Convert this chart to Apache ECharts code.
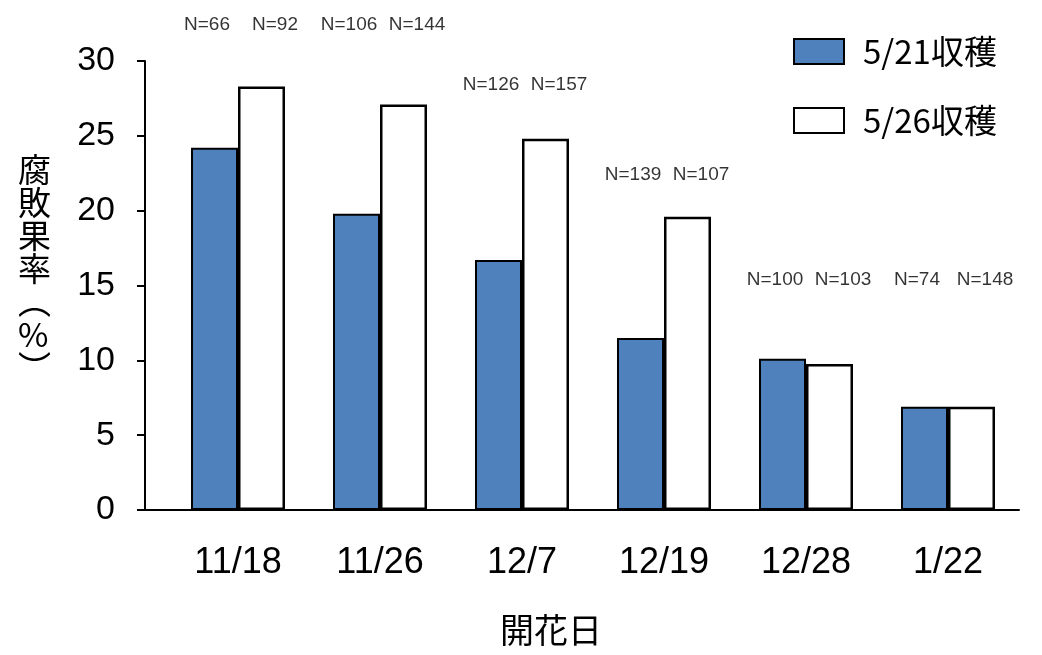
<!DOCTYPE html>
<html><head><meta charset="utf-8">
<script src="https://cdn.jsdelivr.net/npm/echarts@6/dist/echarts.min.js"></script>
<style>html,body{margin:0;padding:0;background:#fff}#c{width:1042px;height:655px}</style>
</head><body><div id="c"></div>
<script>
const categories = ['11/18', '11/26', '12/7', '12/19', '12/28', '1/22'];
const seriesNames = ['5/21収穫', '5/26収穫'];
const harvest521 = [24.2, 19.8, 16.7, 11.5, 10.1, 6.9];
const harvest526 = [28.3, 27.1, 24.8, 19.6, 9.75, 6.9];
const n521 = [66, 106, 126, 139, 100, 74];
const n526 = [92, 144, 157, 107, 103, 148];
const nLabelLevel = [32.4, 32.4, 28.4, 22.4, 15.4, 15.4];
const yTicks = [0, 5, 10, 15, 20, 25, 30];

const chart = echarts.init(document.getElementById('c'), null, {renderer: 'canvas'});
const numFont = '"Liberation Sans", Arial, sans-serif';
const cjkFont = '"Noto Sans CJK JP", "Liberation Sans", sans-serif';

function nSeries(ns, dx) {
  return {
    type: 'scatter', symbolSize: 0, clip: false, silent: true,
    data: nLabelLevel.map((v, i) => [categories[i], v, ns[i]]),
    label: {
      show: true, position: 'inside', offset: [dx, 0],
      formatter: p => 'N=' + p.data[2],
      fontFamily: numFont, fontSize: 19, color: '#000'
    },
    z: 5
  };
}

chart.setOption({
  animation: false,
  backgroundColor: '#fff',
  title: [
    {text: '腐\n敗\n果\n率\n︵\n%\n︶', left: 13, top: 148,
     textStyle: {fontFamily: cjkFont, fontSize: 33, lineHeight: 33, fontWeight: 'normal', color: '#000'}},
    {text: '開花日', left: 495, top: 608,
     textStyle: {fontFamily: cjkFont, fontSize: 34, fontWeight: 'normal', color: '#000'}}
  ],
  legend: {
    orient: 'vertical', left: 788, top: 30,
    itemWidth: 50, itemHeight: 25, itemGap: 36,
    icon: 'rect',
    textStyle: {fontFamily: cjkFont, fontSize: 33, color: '#000', padding: [0, 0, 0, 14]},
    data: seriesNames
  },
  grid: {left: 167, right: 23, top: 61, bottom: 145, containLabel: false},
  xAxis: {
    type: 'category', data: categories,
    axisLine: {show: true, lineStyle: {color: '#000', width: 2}},
    axisTick: {show: false},
    axisLabel: {color: '#000', fontFamily: numFont, fontSize: 36, margin: 35}
  },
  yAxis: {
    type: 'value', min: 0, max: 30, interval: 5, offset: 22,
    axisLine: {show: true, lineStyle: {color: '#000', width: 2}},
    axisTick: {show: true, inside: false, length: 8, lineStyle: {color: '#000', width: 2}},
    splitLine: {show: false},
    axisLabel: {color: '#000', fontFamily: numFont, fontSize: 34, margin: 30,
      formatter: v => yTicks.includes(v) ? String(v) : ''}
  },
  graphic: [],
  series: [
    {name: seriesNames[0], type: 'bar', data: harvest521, barWidth: 47, barGap: '0%',
     itemStyle: {color: '#4F81BD', borderColor: '#000', borderWidth: 2}},
    {name: seriesNames[1], type: 'bar', data: harvest526, barWidth: 47, barGap: '0%',
     itemStyle: {color: '#fff', borderColor: '#000', borderWidth: 2.5}},
    nSeries(n521, -31),
    nSeries(n526, 37)
  ]
});

// extend x axis line to the offset y axis
const p0 = chart.convertToPixel({gridIndex: 0}, [0, 0]);
chart.setOption({graphic: [{type: 'line', shape: {x1: 144, y1: p0[1], x2: 168, y2: p0[1]},
  style: {stroke: '#000', lineWidth: 2}, z: 10}]});
</script></body></html>
